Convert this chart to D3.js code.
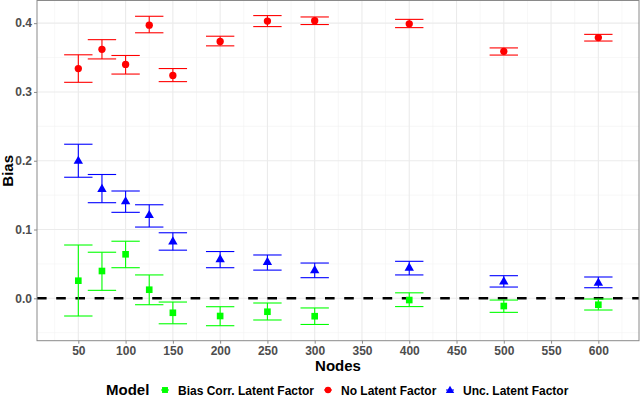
<!DOCTYPE html>
<html>
<head>
<meta charset="utf-8">
<script src="https://cdn.jsdelivr.net/npm/d3@7"></script>
<style>
  body { margin: 0; background: #fff; }
  svg { display: block; font-family: "Liberation Sans", Arial, sans-serif; }
</style>
</head>
<body>
<svg id="viz" width="640" height="398"></svg>
<script>
// data
var nodes = [50, 75, 100, 125, 150, 200, 250, 300, 400, 500, 600];

var noLatent   = [0.334, 0.362, 0.340, 0.397, 0.324, 0.3735, 0.403, 0.4035, 0.399, 0.359, 0.379];
var noLatentLo = [0.314, 0.348, 0.326, 0.386, 0.315, 0.367, 0.395, 0.398, 0.3935, 0.3536, 0.374];
var noLatentHi = [0.354, 0.376, 0.353, 0.410, 0.334, 0.381, 0.411, 0.409, 0.4055, 0.364, 0.3837];

var uncLatent   = [0.201, 0.160, 0.142, 0.122, 0.0837, 0.058, 0.054, 0.042, 0.0455, 0.0256, 0.0237];
var uncLatentLo = [0.176, 0.139, 0.125, 0.1036, 0.070, 0.0445, 0.041, 0.030, 0.034, 0.0164, 0.0154];
var uncLatentHi = [0.224, 0.180, 0.156, 0.136, 0.0953, 0.068, 0.063, 0.0513, 0.0538, 0.0329, 0.031];

var biasCorr   = [0.0256, 0.0397, 0.064, 0.0125, -0.021, -0.0257, -0.0195, -0.026, -0.0025, -0.0112, -0.0093];
var biasCorrLo = [-0.0257, 0.0116, 0.0445, -0.0093, -0.037, -0.0398, -0.0315, -0.038, -0.012, -0.0204, -0.017];
var biasCorrHi = [0.0775, 0.067, 0.083, 0.034, -0.0054, -0.0122, -0.0068, -0.014, 0.008, -0.0025, -0.001];

var xTicks = [50, 100, 150, 200, 250, 300, 350, 400, 450, 500, 550, 600];
var xMinor = [25, 75, 125, 175, 225, 275, 325, 375, 425, 475, 525, 575, 625];
var yTicks = [0.0, 0.1, 0.2, 0.3, 0.4];
var yMinor = [-0.05, 0.05, 0.15, 0.25, 0.35];

var modelNames = ['Bias Corr. Latent Factor', 'No Latent Factor', 'Unc. Latent Factor'];
var modelColors = ['#00ff00', '#ff0000', '#0000ff'];
var modelShapes = [d3.symbolSquare, d3.symbolCircle, d3.symbolTriangle];
var shapeSizes = [44, 42, 38];

var series = [
  { name: modelNames[0], mid: biasCorr, lo: biasCorrLo, hi: biasCorrHi },
  { name: modelNames[1], mid: noLatent, lo: noLatentLo, hi: noLatentHi },
  { name: modelNames[2], mid: uncLatent, lo: uncLatentLo, hi: uncLatentHi }
];

var margin = { left: 37, right: 1, top: 1, bottom: 57.3 };
var width = 640, height = 398;

var x = d3.scaleLinear().domain([6.3, 643]).range([margin.left, width - margin.right]);
var y = d3.scaleLinear().domain([-0.0616, 0.4322]).range([height - margin.bottom, margin.top]);

var svg = d3.select('#viz');
var panel = svg.append('g');

// grid
panel.selectAll('.xminor').data(xMinor).join('line')
  .attr('x1', d => x(d)).attr('x2', d => x(d))
  .attr('y1', y.range()[0]).attr('y2', y.range()[1])
  .attr('stroke', '#f2f2f2').attr('stroke-width', 0.6);
panel.selectAll('.yminor').data(yMinor).join('line')
  .attr('y1', d => y(d)).attr('y2', d => y(d))
  .attr('x1', x.range()[0]).attr('x2', x.range()[1])
  .attr('stroke', '#f2f2f2').attr('stroke-width', 0.6);
panel.selectAll('.xmajor').data(xTicks).join('line')
  .attr('x1', d => x(d)).attr('x2', d => x(d))
  .attr('y1', y.range()[0]).attr('y2', y.range()[1])
  .attr('stroke', '#ebebeb').attr('stroke-width', 1.1);
panel.selectAll('.ymajor').data(yTicks).join('line')
  .attr('y1', d => y(d)).attr('y2', d => y(d))
  .attr('x1', x.range()[0]).attr('x2', x.range()[1])
  .attr('stroke', '#ebebeb').attr('stroke-width', 1.1);

// zero line
panel.append('line')
  .attr('x1', x.range()[0]).attr('x2', x.range()[1])
  .attr('y1', y(0)).attr('y2', y(0))
  .attr('stroke', 'black').attr('stroke-width', 2.6)
  .attr('stroke-dasharray', '9.6,9.6');

// error bars + points
series.forEach(function (s, k) {
  var g = panel.append('g');
  var rows = nodes.map((n, i) => ({ n: n, mid: s.mid[i], lo: s.lo[i], hi: s.hi[i] }));
  var half = 15;
  g.selectAll('.v').data(rows).join('line')
    .attr('x1', d => x(d.n)).attr('x2', d => x(d.n))
    .attr('y1', d => y(d.lo)).attr('y2', d => y(d.hi))
    .attr('stroke', modelColors[k]).attr('stroke-width', 1.1);
  g.selectAll('.capHi').data(rows).join('line')
    .attr('x1', d => x(d.n - half)).attr('x2', d => x(d.n + half))
    .attr('y1', d => y(d.hi)).attr('y2', d => y(d.hi))
    .attr('stroke', modelColors[k]).attr('stroke-width', 1.1);
  g.selectAll('.capLo').data(rows).join('line')
    .attr('x1', d => x(d.n - half)).attr('x2', d => x(d.n + half))
    .attr('y1', d => y(d.lo)).attr('y2', d => y(d.lo))
    .attr('stroke', modelColors[k]).attr('stroke-width', 1.1);
  var off = k == 2 ? 1 : 0;
  g.selectAll('path').data(rows).join('path')
    .attr('d', d3.symbol().type(modelShapes[k]).size(shapeSizes[k]))
    .attr('transform', d => 'translate(' + x(d.n) + ',' + (y(d.mid) + off) + ')')
    .attr('fill', modelColors[k]);
});

// panel border
svg.append('rect')
  .attr('x', x.range()[0]).attr('y', 0.5)
  .attr('width', x.range()[1] - x.range()[0])
  .attr('height', y.range()[0] - 0.5)
  .attr('fill', 'none').attr('stroke', '#8a8a8a').attr('stroke-width', 1);

// axes
var xAxis = svg.append('g')
  .attr('transform', 'translate(0,' + y.range()[0] + ')')
  .call(d3.axisBottom(x).tickValues(xTicks).tickSize(3).tickPadding(3).tickFormat(d3.format('d')));
var yAxis = svg.append('g')
  .attr('transform', 'translate(' + x.range()[0] + ',0)')
  .call(d3.axisLeft(y).tickValues(yTicks).tickSize(3).tickPadding(2).tickFormat(d3.format('.1f')));
[xAxis, yAxis].forEach(function (a) {
  a.select('.domain').remove();
  a.selectAll('.tick line').attr('stroke', '#8a8a8a');
  a.selectAll('.tick text')
    .attr('fill', '#4d4d4d')
    .style('font-size', '12px')
    .style('font-weight', 'bold')
    .style('font-family', '"Liberation Sans", Arial, sans-serif');
});

// axis titles
svg.append('text')
  .attr('x', (x.range()[0] + x.range()[1]) / 2)
  .attr('y', 370.5)
  .attr('text-anchor', 'middle')
  .style('font-size', '15px')
  .style('font-weight', 'bold')
  .text('Nodes');

svg.append('text')
  .attr('transform', 'translate(13,' + (y.range()[0] + y.range()[1]) / 2 + ') rotate(-90)')
  .attr('text-anchor', 'middle')
  .style('font-size', '15px')
  .style('font-weight', 'bold')
  .text('Bias');

// legend
var legend = svg.append('g');
legend.append('text')
  .attr('x', 106).attr('y', 394.5)
  .style('font-size', '15px').style('font-weight', 'bold')
  .text('Model');
var keyX = [165, 328, 450];
modelNames.forEach(function (name, k) {
  legend.append('line')
    .attr('x1', keyX[k] - 4).attr('x2', keyX[k] + 4)
    .attr('y1', 390).attr('y2', 390)
    .attr('stroke', modelColors[k]).attr('stroke-width', 1.1);
  legend.append('path')
    .attr('d', d3.symbol().type(modelShapes[k]).size(shapeSizes[k] * 0.8))
    .attr('transform', 'translate(' + keyX[k] + ',' + (390 + (k == 2 ? 0.5 : 0)) + ')')
    .attr('fill', modelColors[k]);
  legend.append('text')
    .attr('x', keyX[k] + 13).attr('y', 394.5)
    .style('font-size', '12px').style('font-weight', 'bold')
    .text(name);
});
</script>
</body>
</html>
